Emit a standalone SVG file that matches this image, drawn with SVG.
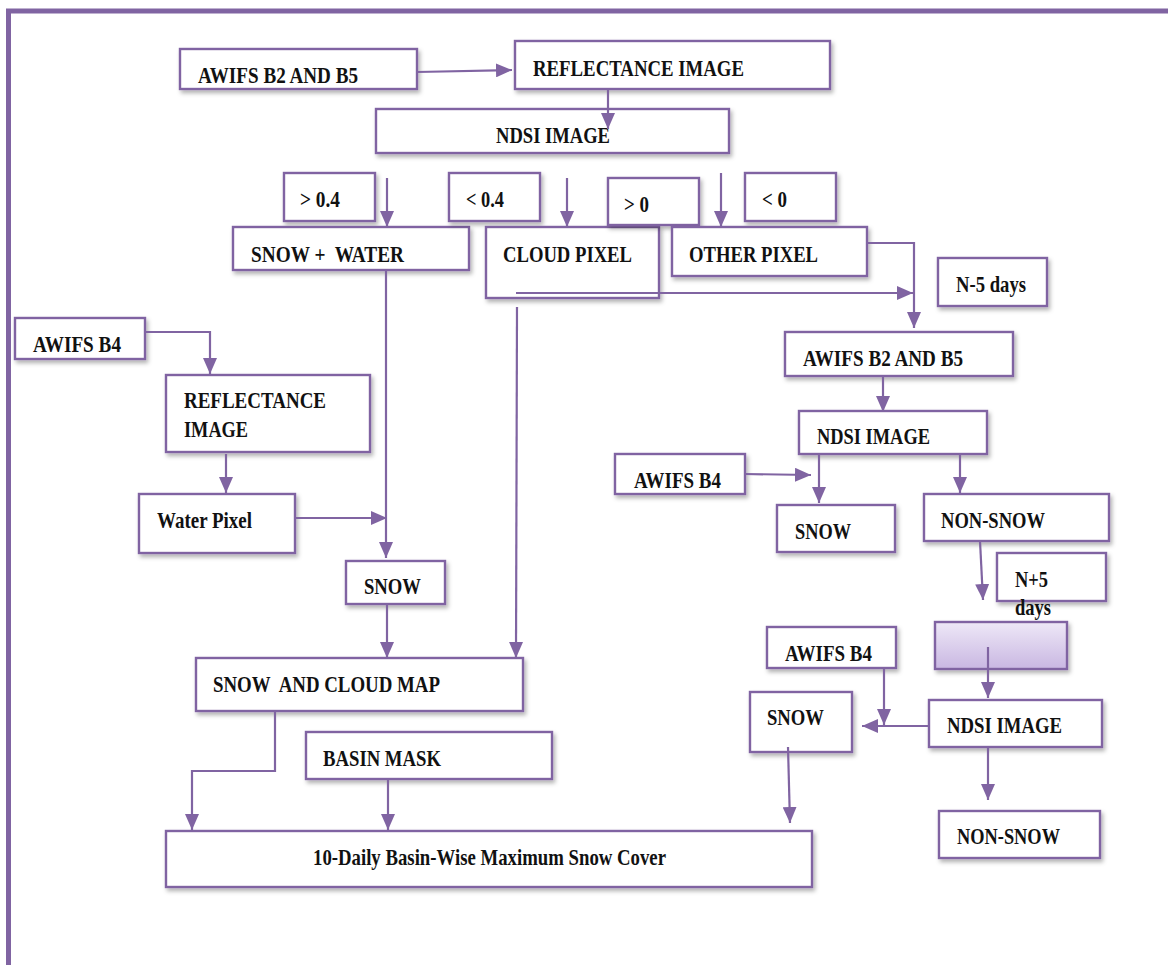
<svg xmlns="http://www.w3.org/2000/svg" width="1168" height="965" viewBox="0 0 1168 965">
<style>
.box{fill:#fff;stroke:#8064A2;stroke-width:2.4;filter:url(#sh)}
.t{font-family:"Liberation Serif","Times New Roman",serif;font-weight:bold;font-size:24px;fill:#111;white-space:pre}
.c{fill:none;stroke:#8064A2;stroke-width:2.2;marker-end:url(#ah)}
</style>
<defs>
<filter id="sh" x="-10%" y="-20%" width="130%" height="160%">
<feDropShadow dx="2" dy="3" stdDeviation="2" flood-color="#000" flood-opacity="0.3"/>
</filter>
<linearGradient id="g1" x1="0" y1="0" x2="0" y2="1">
<stop offset="0" stop-color="#EEE8F7"/>
<stop offset="1" stop-color="#C9B7E2"/>
</linearGradient>
<marker id="ah" markerUnits="userSpaceOnUse" markerWidth="16" markerHeight="14" refX="16" refY="7" orient="auto">
<path d="M0,0 L16,7 L0,14 z" fill="#8064A2"/>
</marker>
</defs>
<rect width="1168" height="965" fill="#fff"/>
<path d="M8.5,965 V11 H1168" fill="none" stroke="#8064A2" stroke-width="5"/>

<g id="n1"><rect class="box" x="180" y="49" width="237" height="40"/><text class="t" x="198" y="83" textLength="160" lengthAdjust="spacingAndGlyphs">AWIFS B2 AND B5</text></g>
<g id="n2"><rect class="box" x="515" y="41" width="315" height="48"/><text class="t" x="533" y="76" textLength="211" lengthAdjust="spacingAndGlyphs">REFLECTANCE IMAGE</text></g>
<g id="n3"><rect class="box" x="376" y="109" width="353" height="44"/><text class="t" x="496" y="143" textLength="114" lengthAdjust="spacingAndGlyphs">NDSI IMAGE</text></g>
<g id="n4"><rect class="box" x="284" y="173" width="91" height="48"/><text class="t" x="300" y="207" textLength="40" lengthAdjust="spacingAndGlyphs">&gt; 0.4</text></g>
<g id="n5"><rect class="box" x="233" y="227" width="236" height="43"/><text class="t" x="251" y="262" textLength="153" lengthAdjust="spacingAndGlyphs">SNOW +  WATER</text></g>
<g id="n6"><rect class="box" x="449" y="173" width="91" height="48"/><text class="t" x="466" y="207" textLength="38" lengthAdjust="spacingAndGlyphs">&lt; 0.4</text></g>
<g id="n7"><rect class="box" x="486" y="227" width="173" height="71"/><text class="t" x="503" y="262" textLength="129" lengthAdjust="spacingAndGlyphs">CLOUD PIXEL</text></g>
<g id="n8"><rect class="box" x="608" y="178" width="91" height="47"/><text class="t" x="624" y="212" textLength="25" lengthAdjust="spacingAndGlyphs">&gt; 0</text></g>
<g id="n9"><rect class="box" x="745" y="173" width="91" height="48"/><text class="t" x="762" y="207" textLength="25" lengthAdjust="spacingAndGlyphs">&lt; 0</text></g>
<g id="n10"><rect class="box" x="672" y="227" width="195" height="49"/><text class="t" x="689" y="262" textLength="129" lengthAdjust="spacingAndGlyphs">OTHER PIXEL</text></g>
<g id="n11"><rect class="box" x="938" y="258" width="109" height="48"/><text class="t" x="956" y="292" textLength="70" lengthAdjust="spacingAndGlyphs">N-5 days</text></g>
<g id="n12"><rect class="box" x="785" y="332" width="228" height="44"/><text class="t" x="803" y="366" textLength="160" lengthAdjust="spacingAndGlyphs">AWIFS B2 AND B5</text></g>
<g id="n13"><rect class="box" x="799" y="411" width="188" height="43"/><text class="t" x="817" y="444" textLength="113" lengthAdjust="spacingAndGlyphs">NDSI IMAGE</text></g>
<g id="n14"><rect class="box" x="615" y="454" width="130" height="40"/><text class="t" x="634" y="488" textLength="87" lengthAdjust="spacingAndGlyphs">AWIFS B4</text></g>
<g id="n15"><rect class="box" x="777" y="505" width="118" height="47"/><text class="t" x="795" y="539" textLength="56" lengthAdjust="spacingAndGlyphs">SNOW</text></g>
<g id="n16"><rect class="box" x="924" y="494" width="185" height="47"/><text class="t" x="941" y="528" textLength="104" lengthAdjust="spacingAndGlyphs">NON-SNOW</text></g>
<g id="n17"><rect class="box" x="997" y="553" width="109" height="48"/><text class="t" x="1015" y="587" textLength="33" lengthAdjust="spacingAndGlyphs">N+5</text><text class="t" x="1015" y="615" textLength="36" lengthAdjust="spacingAndGlyphs">days</text></g>
<g id="n18"><rect class="box" x="935" y="622" width="132" height="47" style="fill:url(#g1)"/></g>
<g id="n19"><rect class="box" x="767" y="627" width="129" height="41"/><text class="t" x="785" y="661" textLength="87" lengthAdjust="spacingAndGlyphs">AWIFS B4</text></g>
<g id="n20"><rect class="box" x="750" y="692" width="102" height="60"/><text class="t" x="767" y="725" textLength="57" lengthAdjust="spacingAndGlyphs">SNOW</text></g>
<g id="n21"><rect class="box" x="929" y="700" width="173" height="47"/><text class="t" x="947" y="733" textLength="115" lengthAdjust="spacingAndGlyphs">NDSI IMAGE</text></g>
<g id="n22"><rect class="box" x="939" y="811" width="161" height="47"/><text class="t" x="957" y="844" textLength="103" lengthAdjust="spacingAndGlyphs">NON-SNOW</text></g>
<g id="n23"><rect class="box" x="166" y="831" width="646" height="56"/><text class="t" x="313" y="865" textLength="353" lengthAdjust="spacingAndGlyphs">10-Daily Basin-Wise Maximum Snow Cover</text></g>
<g id="n24"><rect class="box" x="196" y="658" width="327" height="53"/><text class="t" x="213" y="692" textLength="227" lengthAdjust="spacingAndGlyphs">SNOW  AND CLOUD MAP</text></g>
<g id="n25"><rect class="box" x="306" y="732" width="246" height="47"/><text class="t" x="323" y="766" textLength="118" lengthAdjust="spacingAndGlyphs">BASIN MASK</text></g>
<g id="n26"><rect class="box" x="15" y="318" width="130" height="41"/><text class="t" x="33" y="352" textLength="88" lengthAdjust="spacingAndGlyphs">AWIFS B4</text></g>
<g id="n27"><rect class="box" x="166" y="375" width="204" height="77"/><text class="t" x="184" y="408" textLength="142" lengthAdjust="spacingAndGlyphs">REFLECTANCE</text><text class="t" x="184" y="437" textLength="64" lengthAdjust="spacingAndGlyphs">IMAGE</text></g>
<g id="n28"><rect class="box" x="139" y="494" width="156" height="59"/><text class="t" x="157" y="528" textLength="95" lengthAdjust="spacingAndGlyphs">Water Pixel</text></g>
<g id="n29"><rect class="box" x="346" y="561" width="99" height="43"/><text class="t" x="364" y="594" textLength="57" lengthAdjust="spacingAndGlyphs">SNOW</text></g>

<g id="connectors">
<path class="c" d="M417,72 L512,70"/>
<path class="c" d="M608,89 L608,129"/>
<path class="c" d="M387,178 L387,227"/>
<path class="c" d="M567,178 L567,227"/>
<path class="c" d="M721,173 L721,227"/>
<path class="c" d="M867,243 L914,243 L914,328"/>
<path class="c" d="M516,293 L913,293"/>
<path class="c" d="M883,376 L883,412"/>
<path class="c" d="M745,474 L811,475"/>
<path class="c" d="M819,454 L819,503"/>
<path class="c" d="M960,454 L960,493"/>
<path class="c" d="M980,541 L983,600"/>
<path class="c" d="M988,647 L988,698"/>
<path class="c" d="M884,668 L884,725"/>
<path class="c" d="M929,726 L862,726"/>
<path class="c" d="M988,747 L988,800"/>
<path class="c" d="M788,747 L790,823"/>
<path class="c" d="M145,332 L210,332 L210,374"/>
<path class="c" d="M226,454 L226,493"/>
<path class="c" d="M295,518 L387,518"/>
<path class="c" d="M386,270 L386,558"/>
<path class="c" d="M387,604 L387,658"/>
<path class="c" d="M517,307 L516,658"/>
<path class="c" d="M275,711 L275,771 L192,771 L192,830"/>
<path class="c" d="M388,779 L388,830"/>
</g>
</svg>
